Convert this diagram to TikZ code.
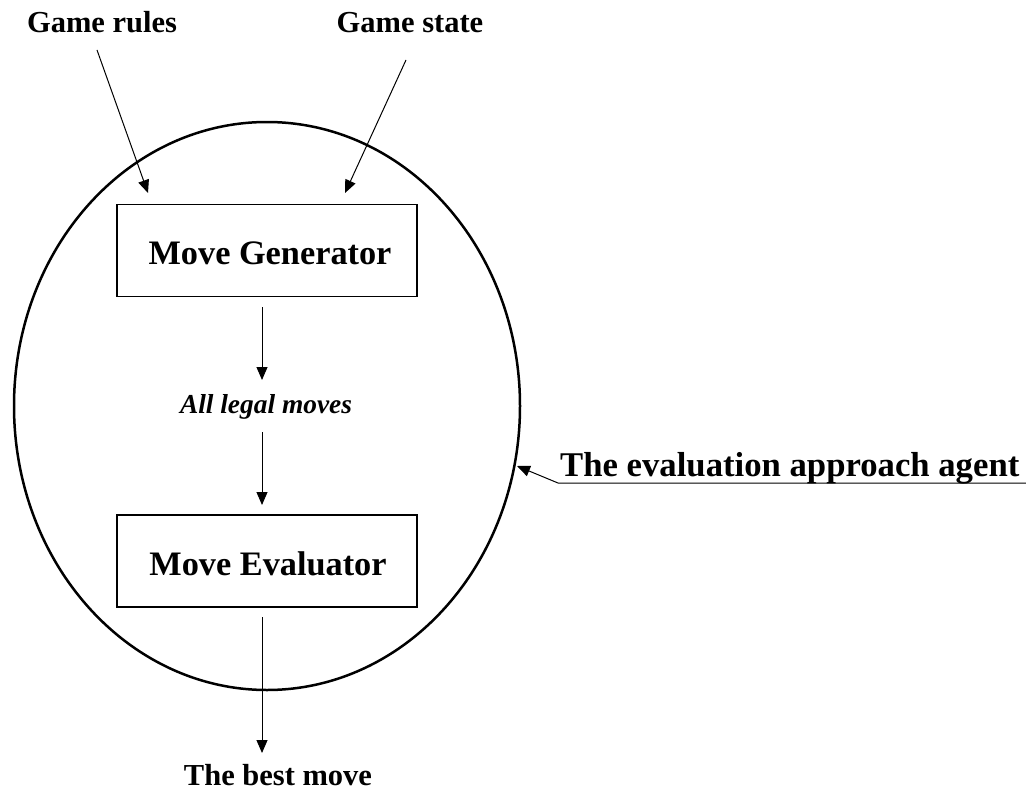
\documentclass[tikz,border=0pt]{standalone}
\usepackage{fontspec}
\setmainfont{Liberation Serif}
\usetikzlibrary{arrows.meta,shapes.geometric}
\begin{document}
\begin{tikzpicture}[x=1pt,y=-1pt,
  lbl/.style={font=\fontsize{30.5}{34}\selectfont\bfseries, inner sep=0pt, anchor=base},
  boxlbl/.style={font=\fontsize{34.3}{38}\selectfont\bfseries, inner sep=0pt, anchor=base},
  modbox/.style={draw, line width=1.2pt, minimum width=300pt, minimum height=92pt, inner sep=0pt},
  flow/.style={line width=1pt, -{Triangle[length=13pt,width=11pt]}}]
\useasboundingbox (0,0) rectangle (1026,792);

% agent boundary
\node[ellipse, draw, line width=2.5pt, minimum width=506pt, minimum height=568pt, inner sep=0pt] (agent) at (267,406) {};

% inputs
\node[lbl] (rules) at (102,33) {Game rules};
\node[lbl] (state) at (410,33) {Game state};
\coordinate (rulesOut) at (97,50);
\coordinate (stateOut) at (406,60);
\coordinate (rulesIn) at (148,193);
\coordinate (stateIn) at (345,193);
\draw[flow] (rulesOut) -- (rulesIn);
\draw[flow] (stateOut) -- (stateIn);

% modules
\node[modbox] (gen) at (267,250.5) {};
\node[boxlbl] (genT) at (270,264) {Move Generator};
\node[modbox] (eval) at (267,561) {};
\node[boxlbl] (evalT) at (268,575) {Move Evaluator};

\node[font=\fontsize{27.4}{31}\selectfont\bfseries\itshape, inner sep=0pt, anchor=base] (legal) at (266,413) {All legal moves};
\node[lbl] (best) at (278,785) {The best move};

\coordinate (a1s) at (262,307);
\coordinate (a1e) at (262,380);
\coordinate (a2s) at (262,432);
\coordinate (a2e) at (262,505);
\coordinate (a3s) at (262,617);
\coordinate (a3e) at (262,753);
\draw[flow] (a1s) -- (a1e);
\draw[flow] (a2s) -- (a2e);
\draw[flow] (a3s) -- (a3e);

% callout
\node[font=\fontsize{34.7}{38}\selectfont\bfseries, inner sep=0pt, anchor=base west] (agentT) at (560,476) {The evaluation approach agent};
\coordinate (ulR) at (1026,483);
\coordinate (ulL) at (558,483);
\coordinate (tip) at (517,466);
\draw[flow] (ulR) -- (ulL) -- (tip);
\end{tikzpicture}
\end{document}
